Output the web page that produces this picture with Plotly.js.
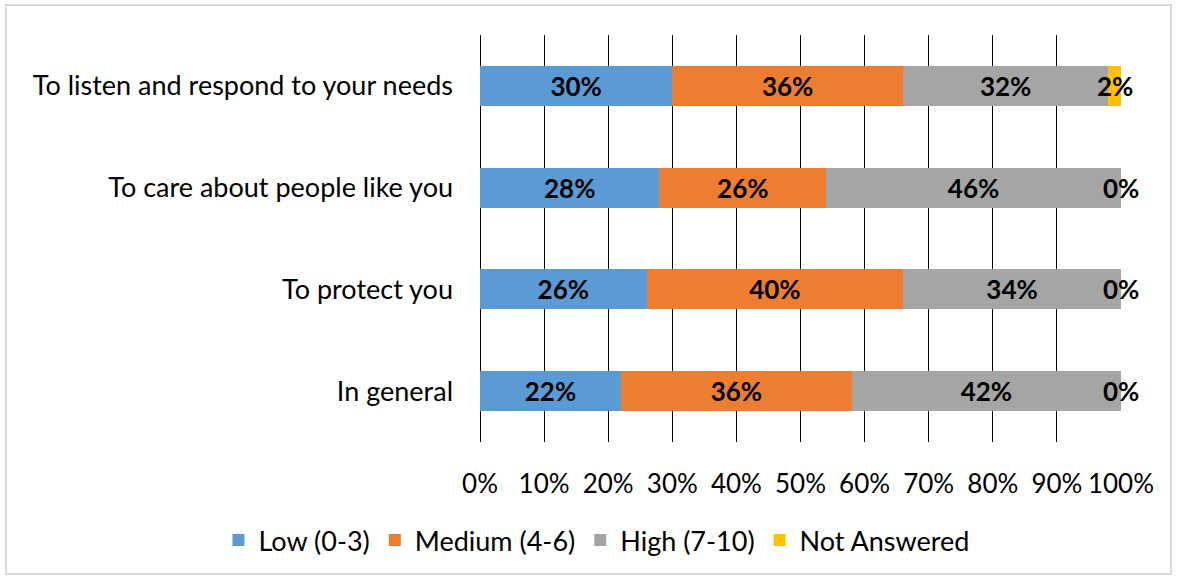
<!DOCTYPE html>
<html>
<head>
<meta charset="utf-8">
<script src="https://cdn.plot.ly/plotly-3.0.1.min.js"></script>
<style>
html,body{margin:0;padding:0;background:#fff;}
#chart{width:1177px;height:578px;}
#frame{position:absolute;left:5px;top:4px;width:1163px;height:567px;border:2px solid #d9d9d9;pointer-events:none;}
</style>
</head>
<body>
<div id="chart"></div>
<div id="frame"></div>
<script>
const categories = ["To listen and respond to your needs", "To care about people like you", "To protect you", "In general"];
const seriesNames = ["Low (0-3)", "Medium (4-6)", "High (7-10)", "Not Answered"];
const low = [30, 28, 26, 22];
const medium = [36, 26, 40, 36];
const high = [32, 46, 34, 42];
const notAnswered = [2, 0, 0, 0];
const tickVals = [0,10,20,30,40,50,60,70,80,90,100];
const tickText = ["0%","10%","20%","30%","40%","50%","60%","70%","80%","90%","100%"];

const colors = ["#5B9BD5", "#ED7D31", "#A5A5A5", "#FFC000"];
const FONT = "Lato, 'Open Sans', sans-serif";
const series = [low, medium, high, notAnswered];

const traces = series.map((vals, i) => ({
  type: 'bar',
  orientation: 'h',
  name: seriesNames[i],
  y: categories,
  x: vals,
  marker: {color: colors[i], line: {width: 0}},
  text: i < 3 ? vals.map(v => v + '%') : undefined,
  textposition: i < 3 ? 'inside' : 'none',
  insidetextanchor: 'middle',
  textfont: {family: FONT, size: 26, color: '#000', weight: 'bold'},
  hoverinfo: 'none'
}));

// labels for the last (thin/zero) segment, centred on their segment
const annotations = categories.map((c, k) => {
  const start = low[k] + medium[k] + high[k];
  return {
    x: start + notAnswered[k] / 2, y: c, xref: 'x', yref: 'y',
    text: notAnswered[k] + '%', showarrow: false,
    font: {family: FONT, size: 26, color: '#000', weight: 'bold'}
  };
});

const layout = {
  width: 1177, height: 578,
  margin: {l: 480, r: 56, t: 35, b: 136},
  paper_bgcolor: '#fff', plot_bgcolor: '#fff',
  barmode: 'stack',
  bargap: 0.607,
  showlegend: true,
  legend: {
    orientation: 'h', xref: 'paper', yref: 'paper',
    x: -0.408, xanchor: 'left', y: -0.242, yanchor: 'middle',
    font: {family: FONT, size: 27, color: '#000'},
    itemwidth: 30, traceorder: 'normal'
  },
  xaxis: {
    range: [0, 100], tickvals: tickVals, ticktext: tickText,
    showgrid: true, gridcolor: '#000', gridwidth: 1,
    zeroline: true, zerolinecolor: '#000', zerolinewidth: 1,
    showline: false, ticks: '', ticklabelstandoff: 24,
    tickfont: {family: FONT, size: 26, color: '#000'},
    fixedrange: true
  },
  yaxis: {
    type: 'category', autorange: 'reversed',
    showgrid: false, zeroline: false, showline: false, ticks: '',
    ticklabelstandoff: 26,
    tickfont: {family: FONT, size: 27, color: '#000'},
    fixedrange: true
  },
  annotations: annotations
};

Plotly.newPlot('chart', traces, layout, {displayModeBar: false, staticPlot: true});
</script>
</body>
</html>
